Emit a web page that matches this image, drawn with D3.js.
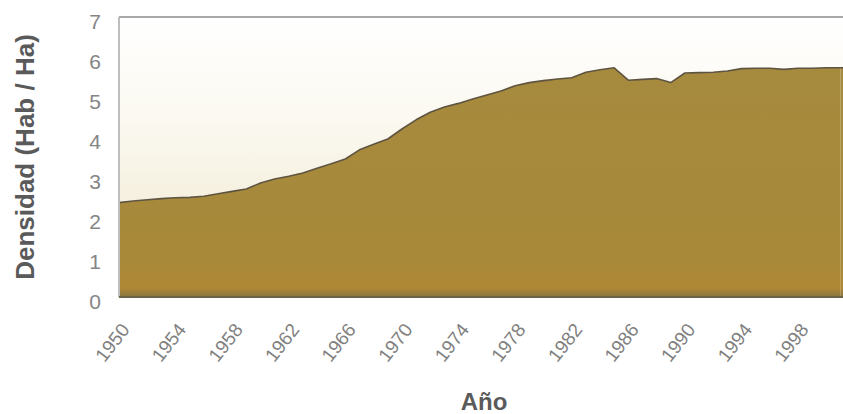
<!DOCTYPE html>
<html>
<head>
<meta charset="utf-8">
<script src="https://cdn.jsdelivr.net/npm/d3@7"></script>
<style>
  html, body { margin: 0; padding: 0; background: #ffffff; }
  svg { display: block; }
</style>
</head>
<body>
<svg id="chart" width="843" height="414"></svg>
<script>
// ---- data ----
const years = [1950,1951,1952,1953,1954,1955,1956,1957,1958,1959,
               1960,1961,1962,1963,1964,1965,1966,1967,1968,1969,
               1970,1971,1972,1973,1974,1975,1976,1977,1978,1979,
               1980,1981,1982,1983,1984,1985,1986,1987,1988,1989,
               1990,1991,1992,1993,1994,1995,1996,1997,1998,1999,
               2000,2001];
const density = [2.36,2.40,2.43,2.46,2.48,2.49,2.52,2.58,2.64,2.70,
                 2.85,2.95,3.02,3.10,3.22,3.33,3.45,3.68,3.82,3.95,
                 4.20,4.43,4.62,4.75,4.84,4.95,5.05,5.15,5.28,5.36,
                 5.41,5.45,5.48,5.62,5.68,5.73,5.42,5.44,5.46,5.36,
                 5.60,5.61,5.62,5.65,5.71,5.72,5.72,5.69,5.72,5.72,
                 5.73,5.73];
const xTickLabels = [1950,1954,1958,1962,1966,1970,1974,1978,1982,1986,1990,1994,1998];
const yTickLabels = [0,1,2,3,4,5,6,7];
const yTitle = "Densidad (Hab / Ha)";
const xTitle = "Año";

// ---- layout ----
const svg = d3.select("#chart");
const plot = { left: 119, top: 17, right: 848, bottom: 297 };

const x = d3.scaleLinear().domain([1950, 2001]).range([plot.left, 840.5]);
const y = d3.scaleLinear().domain([0, 7]).range([plot.bottom, plot.top]);

const defs = svg.append("defs");
const bg = defs.append("linearGradient").attr("id", "bgGrad")
  .attr("x1", 0).attr("y1", 0).attr("x2", 0).attr("y2", 1);
bg.append("stop").attr("offset", "0%").attr("stop-color", "#ffffff");
bg.append("stop").attr("offset", "35%").attr("stop-color", "#fbf9f1");
bg.append("stop").attr("offset", "100%").attr("stop-color", "#efe6cb");

const ag = defs.append("linearGradient").attr("id", "areaGrad")
  .attr("x1", 0).attr("y1", 0).attr("x2", 0).attr("y2", 1);
ag.append("stop").attr("offset", "0%").attr("stop-color", "#a68a3d");
ag.append("stop").attr("offset", "85%").attr("stop-color", "#a8893a");
ag.append("stop").attr("offset", "96%").attr("stop-color", "#b08834");
ag.append("stop").attr("offset", "100%").attr("stop-color", "#8a7640");

// plot background
svg.append("rect")
  .attr("x", plot.left).attr("y", plot.top)
  .attr("width", plot.right - plot.left).attr("height", plot.bottom - plot.top)
  .attr("fill", "url(#bgGrad)");

const pts = years.map((yr, i) => ({ year: yr, v: density[i] }));

// area
const area = d3.area()
  .x(d => x(d.year))
  .y0(y(0))
  .y1(d => y(d.v));
svg.append("path")
  .datum(pts)
  .attr("d", area)
  .attr("fill", "url(#areaGrad)");

// extend fill to right edge of picture (last value held)
const last = pts[pts.length - 1];
svg.append("rect")
  .attr("x", x(last.year)).attr("y", y(last.v))
  .attr("width", plot.right - x(last.year)).attr("height", y(0) - y(last.v))
  .attr("fill", "url(#areaGrad)");

// outline
const line = d3.line().x(d => x(d.year)).y(d => y(d.v));
svg.append("path")
  .datum(pts.concat([{ year: 2001.5, v: last.v }]))
  .attr("d", line)
  .attr("fill", "none")
  .attr("stroke", "#5e5441")
  .attr("stroke-width", 1.6)
  .attr("stroke-linejoin", "round");

// frame
svg.append("line")
  .attr("x1", plot.left).attr("x2", plot.right)
  .attr("y1", plot.top).attr("y2", plot.top)
  .attr("stroke", "#a9a9a9").attr("stroke-width", 2);
svg.append("line")
  .attr("x1", plot.left).attr("x2", plot.left)
  .attr("y1", plot.top).attr("y2", plot.bottom)
  .attr("stroke", "#bdbdbd").attr("stroke-width", 2);
svg.append("line")
  .attr("x1", plot.left).attr("x2", plot.right)
  .attr("y1", plot.bottom).attr("y2", plot.bottom)
  .attr("stroke", "#6d6448").attr("stroke-width", 2);

// y axis
const yAxis = d3.axisLeft(y).tickValues(yTickLabels).tickSize(0).tickPadding(0)
  .tickFormat(d3.format("d"));
const gy = svg.append("g").attr("transform", `translate(101,0)`).call(yAxis);
gy.select(".domain").remove();
gy.selectAll("text")
  .attr("font-family", "Liberation Sans, Arial, sans-serif")
  .attr("font-size", 21)
  .attr("fill", "#858585")
  .attr("dy", "0.55em")
  .attr("text-anchor", "end");

// x axis
const xAxis = d3.axisBottom(x).tickValues(xTickLabels).tickSize(0).tickPadding(0)
  .tickFormat(d3.format("d"));
const gx = svg.append("g").attr("transform", `translate(0,${plot.bottom})`).call(xAxis);
gx.select(".domain").remove();
gx.selectAll(".tick text")
  .attr("font-family", "Liberation Sans, Arial, sans-serif")
  .attr("font-size", 19)
  .attr("fill", "#808080")
  .attr("text-anchor", "end")
  .attr("dy", 0)
  .attr("y", 0)
  .attr("transform", "translate(11,33) rotate(-52)");

// titles
svg.append("text")
  .attr("transform", `translate(34,157) rotate(-90)`)
  .attr("text-anchor", "middle")
  .attr("font-family", "Liberation Sans, Arial, sans-serif")
  .attr("font-weight", "bold")
  .attr("font-size", 26)
  .attr("fill", "#5a5a5a")
  .text(yTitle);

svg.append("text")
  .attr("x", 484).attr("y", 410)
  .attr("text-anchor", "middle")
  .attr("font-family", "Liberation Sans, Arial, sans-serif")
  .attr("font-weight", "bold")
  .attr("font-size", 24)
  .attr("fill", "#5a5a5a")
  .text(xTitle);
</script>
</body>
</html>
